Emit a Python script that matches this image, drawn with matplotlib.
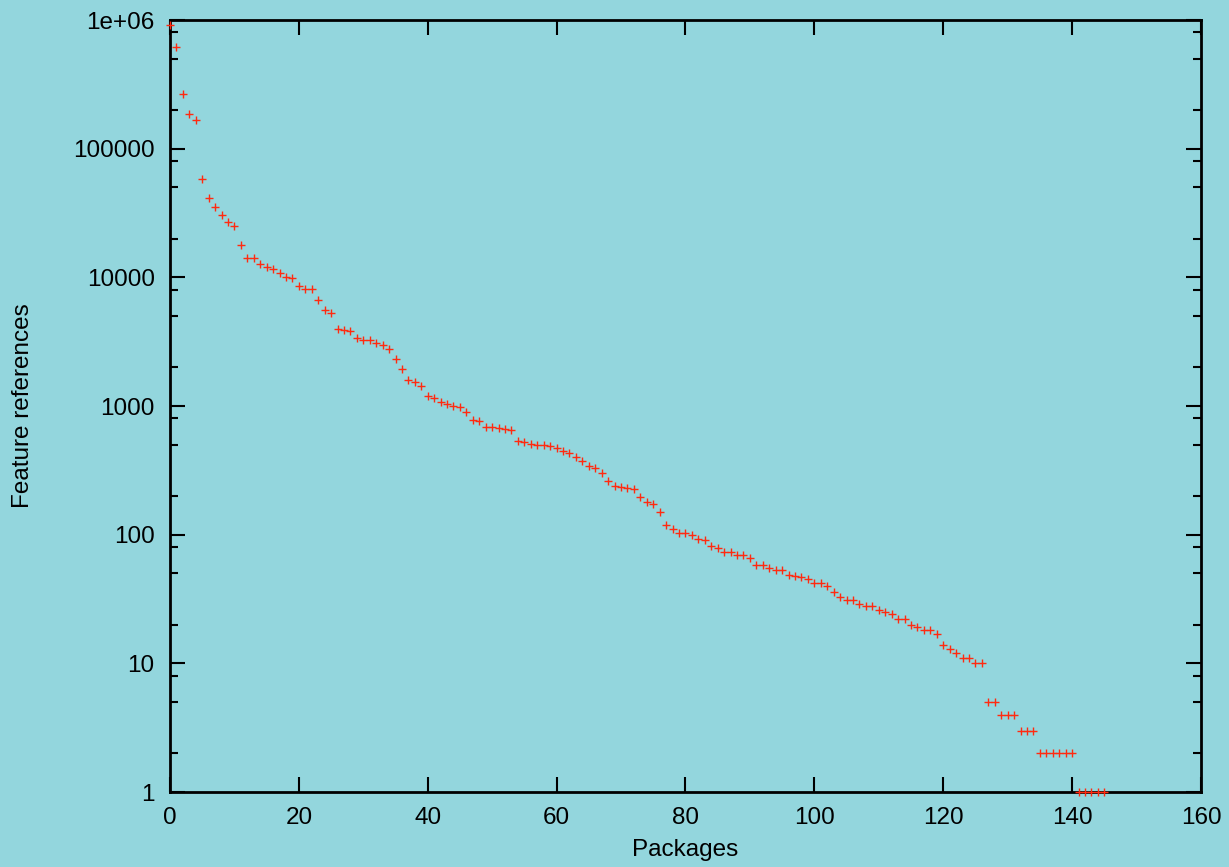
import numpy as np
import matplotlib
matplotlib.use("Agg")
from matplotlib import pyplot as plt
from matplotlib.ticker import FixedLocator, NullFormatter

# package rank (x) and number of feature references (y)
packages = list(range(146))
references = [
    910000, 621000, 266000, 186000, 168000, 58000, 41600, 35000, 30300, 26700,
    25200, 18000, 14100, 14100, 12700, 12000, 11600, 10800, 10000, 9880,
    8600, 8110, 8050, 6650, 5530, 5280, 3980, 3930, 3840, 3375,
    3270, 3270, 3085, 2977, 2785, 2315, 1937, 1590, 1533, 1443,
    1207, 1144, 1078, 1045, 998, 991, 897, 782, 771, 689,
    685, 673, 665, 650, 530, 524, 506, 500, 497, 488,
    468, 449, 428, 398, 375, 343, 327, 304, 262, 238,
    234, 231, 228, 196, 179, 173, 150, 118, 110, 103,
    103, 99, 93, 91, 82, 79, 73, 73, 70, 69,
    66, 58, 58, 55, 53, 53, 49, 48, 47, 45,
    42, 42, 40, 36, 33, 31, 31, 29, 28, 28,
    26, 25, 24, 22, 22, 20, 19, 18, 18, 17,
    14, 13, 12, 11, 11, 10, 10, 5, 5, 4,
    4, 4, 3, 3, 3, 2, 2, 2, 2, 2,
    2, 1, 1, 1, 1, 1,
]

x_ticks = [0, 20, 40, 60, 80, 100, 120, 140, 160]
y_ticks = [1, 10, 100, 1000, 10000, 100000, 1000000]
y_tick_labels = ["1", "10", "100", "1000", "10000", "100000", "1e+06"]

bg = "#93d6dd"
plt.rcParams["font.family"] = ["Liberation Sans", "DejaVu Sans"]
fs = 17.5

fig = plt.figure(figsize=(12.29, 8.67), dpi=100, facecolor=bg)
ax = fig.add_axes([0.1383, 0.0865, 0.8389, 0.8904])
ax.set_facecolor(bg)

ax.plot(packages, references, linestyle="none", marker="+", markersize=5.5,
        markeredgewidth=1.0, color="#ff2a10", clip_on=False, zorder=5)

ax.set_yscale("log")
ax.set_xlim(0, 160)
ax.set_ylim(1, 1e6)

ax.xaxis.set_major_locator(FixedLocator(x_ticks))
ax.set_yticks(y_ticks)
ax.set_yticklabels(y_tick_labels)
minor = [m * 10 ** k for k in range(6) for m in (2, 5, 8)]
ax.yaxis.set_minor_locator(FixedLocator(minor))
ax.yaxis.set_minor_formatter(NullFormatter())

ax.tick_params(which="both", direction="in", top=True, right=True,
               colors="black", labelsize=fs, width=1.5)
ax.tick_params(which="major", length=11)
ax.tick_params(axis="y", which="major", pad=11)
ax.tick_params(axis="x", which="major", pad=11)
ax.tick_params(which="minor", length=5.5)
for s in ax.spines.values():
    s.set_linewidth(2.0)

ax.set_xlabel("Packages", fontsize=fs, labelpad=7)
ax.set_ylabel("Feature references", fontsize=fs, labelpad=28)

fig.savefig("out.png", dpi=100, facecolor=bg)
